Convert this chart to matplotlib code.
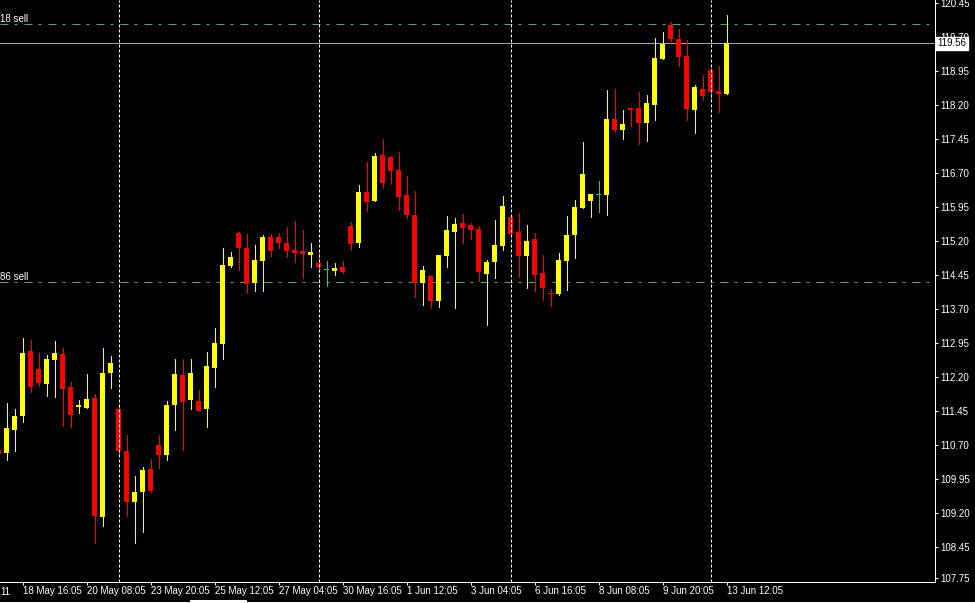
#!/usr/bin/env python3
"""
MetaTrader-style candlestick chart (black terminal look), May-Jun 2011.
Prices read off the terminal screenshot; one bar every 8 px.
"""
import numpy as np
import matplotlib
matplotlib.use("Agg")
import matplotlib.pyplot as plt
from matplotlib import rcParams
from matplotlib.lines import Line2D
from matplotlib.patches import Rectangle
from matplotlib.transforms import blended_transform_factory

rcParams.update({
    "font.family": ["Liberation Sans", "DejaVu Sans"],
    "font.size": 7,
    "lines.scale_dashes": False,
})

W, H = 975, 603
PX = 0.72          # one pixel in points at dpi=100
BAR_PX = 8         # horizontal spacing of bars
PX_PER_UNIT = 45.33

BG     = "#000000"
FG     = "#FFFFFF"
BULL   = "#FFFF00"
BEAR   = "#FF0000"
DOJI   = "#4EC24E"
ORDER  = "#4FB04F"
BID_C  = "#A4A4AC"

# ---- OHLC, oldest first ----
opens = [110.58, 110.52, 111.02, 111.33, 112.77, 112.38, 112.04, 112.57, 112.70, 111.97,
         111.54, 111.52, 111.74, 109.11, 112.28, 111.49, 110.56, 109.43, 109.65, 110.16,
         110.69, 110.47, 111.58, 112.24, 111.69, 111.66, 111.49, 112.40, 112.93, 114.64,
         115.38, 115.04, 114.27, 114.75, 115.28, 115.28, 115.15, 115.00, 114.97, 114.89,
         114.71, 114.55, 114.53, 114.62, 115.52, 115.15, 116.27, 116.07, 117.09, 117.05,
         116.76, 116.21, 115.77, 114.27, 114.42, 113.88, 114.87, 115.40, 115.59, 115.55,
         115.46, 114.47, 114.74, 115.08, 115.73, 115.40, 114.86, 115.24, 114.49, 114.05,
         114.02, 114.76, 115.33, 115.93, 116.08, 116.21, 116.21, 117.89, 117.64, 118.13,
         118.13, 117.80, 118.19, 119.21, 119.96, 119.65, 119.27, 118.08, 118.55, 118.97,
         118.50, 118.44]
highs = [110.62, 111.61, 111.49, 113.05, 113.02, 112.72, 112.68, 112.99, 112.83, 112.09,
         111.69, 112.26, 111.81, 112.83, 112.66, 111.56, 110.91, 110.01, 110.20, 110.38,
         110.91, 111.66, 112.60, 112.59, 112.60, 111.91, 112.75, 113.27, 115.03, 114.96,
         115.40, 115.35, 115.11, 115.33, 115.35, 115.37, 115.50, 115.63, 115.44, 115.15,
         114.96, 114.75, 114.70, 114.75, 115.61, 116.43, 116.94, 117.13, 117.44, 117.07,
         117.16, 116.63, 116.30, 114.64, 114.44, 114.88, 115.74, 115.69, 115.79, 115.60,
         115.52, 114.77, 115.66, 116.19, 115.75, 115.82, 115.55, 115.38, 114.88, 114.13,
         114.92, 115.74, 116.10, 117.38, 116.24, 116.52, 118.52, 118.55, 118.08, 118.14,
         118.49, 118.41, 119.68, 119.80, 120.02, 119.88, 119.63, 118.63, 118.86, 119.02,
         119.05, 120.18]
lows = [110.45, 110.36, 110.55, 111.19, 111.87, 112.00, 111.77, 111.76, 111.12, 111.10,
        111.41, 111.50, 108.54, 108.91, 111.94, 110.44, 109.13, 108.54, 108.78, 109.65,
        110.19, 110.36, 111.02, 110.58, 111.49, 111.44, 111.10, 111.98, 112.60, 114.63,
        114.55, 114.05, 114.09, 114.09, 114.86, 115.05, 114.83, 114.74, 114.38, 114.63,
        114.50, 114.19, 114.44, 114.48, 115.00, 115.07, 115.86, 116.07, 116.37, 116.45,
        115.88, 115.71, 113.96, 113.78, 113.71, 113.74, 114.63, 113.72, 115.16, 115.24,
        114.31, 113.34, 114.38, 114.99, 115.29, 114.41, 114.16, 114.09, 113.89, 113.76,
        114.00, 114.11, 114.81, 115.93, 115.73, 115.84, 115.77, 117.60, 117.44, 117.73,
        117.33, 117.41, 117.86, 119.21, 119.54, 119.05, 117.86, 117.58, 118.30, 118.32,
        118.05, 118.44]
closes = [110.50, 111.06, 111.33, 112.73, 111.97, 112.07, 112.59, 112.73, 111.93, 111.35,
          111.58, 111.71, 109.13, 112.28, 112.50, 110.55, 109.43, 109.66, 110.14, 109.68,
          110.47, 111.58, 112.26, 111.65, 112.28, 111.45, 112.44, 112.94, 114.66, 114.85,
          115.05, 114.25, 114.77, 115.28, 114.97, 115.14, 114.97, 114.93, 114.91, 114.94,
          114.61, 114.55, 114.60, 114.50, 115.13, 116.27, 116.05, 117.07, 116.48, 116.74,
          116.17, 115.77, 114.27, 114.55, 113.88, 114.88, 115.44, 115.57, 115.47, 115.44,
          114.50, 114.74, 115.10, 115.96, 115.35, 114.86, 115.20, 114.44, 114.16, 114.02,
          114.77, 115.33, 115.95, 116.67, 116.23, 116.21, 117.88, 117.64, 117.77, 118.08,
          117.80, 118.23, 119.24, 119.55, 119.65, 119.26, 118.10, 118.58, 118.39, 118.47,
          118.44, 119.56]

separator_bars = [15, 40, 64, 89]
order_prices = [119.97, 114.28]
order_labels = ["18 sell", "86 sell"]
bid = 119.56

time_tick_bars = [3, 11, 19, 27, 35, 43, 51, 59, 67, 75, 83, 91]
time_tick_labels = ["18 May 16:05", "20 May 08:05", "23 May 20:05", "25 May 12:05",
                    "27 May 04:05", "30 May 16:05", "1 Jun 12:05", "3 Jun 04:05",
                    "6 Jun 16:05", "8 Jun 08:05", "9 Jun 20:05", "13 Jun 12:05"]
price_ticks = [107.75, 108.45, 109.20, 109.95, 110.70, 111.45, 112.20, 112.95,
               113.70, 114.45, 115.20, 115.95, 116.70, 117.45, 118.20, 118.95,
               119.70, 120.45]


def main():
    fig = plt.figure(figsize=(W / 100, H / 100), dpi=100, facecolor=BG)
    plot_w, plot_h = 935, 582
    ax = fig.add_axes([0, (H - plot_h) / H, plot_w / W, plot_h / H], facecolor=BG)

    o, h, l, c = map(np.asarray, (opens, highs, lows, closes))
    x = np.arange(len(o))
    colors = np.where(c > o, BULL, np.where(c < o, BEAR, DOJI))

    # order lines + bid line under the candles
    dashdot = (0, (8 * PX, 6 * PX, 3 * PX, 7 * PX))
    for p, lab in zip(order_prices, order_labels):
        ax.axhline(p, color=ORDER, lw=PX, ls=dashdot, zorder=1)
        ax.annotate(lab, xy=(0, p), xycoords=blended_transform_factory(ax.transAxes, ax.transData),
                    xytext=(0.5 * PX, 2 * PX), textcoords="offset points",
                    color=FG, fontsize=7, ha="left", va="baseline")
    ax.axhline(bid, color=BID_C, lw=PX, zorder=1)

    # candles
    ax.vlines(x, l, h, colors=colors, lw=PX, antialiased=False, zorder=3)
    body_lo = np.minimum(o, c)
    body_h = np.maximum(np.abs(c - o), 1.0 / PX_PER_UNIT)
    ax.bar(x, body_h, bottom=body_lo, width=5.5 / BAR_PX, color=colors, lw=0,
           antialiased=False, zorder=3)

    # period separators
    for b in separator_bars:
        ax.axvline(b, color=FG, lw=PX, ls=(0, (3 * PX, 2 * PX)), zorder=4)

    # scales: bar i sits at pixel -1.3 + 8*i
    ax.set_xlim(1.3 / BAR_PX, (plot_w + 1.3) / BAR_PX)
    ax.set_ylim(120.51 - plot_h / PX_PER_UNIT, 120.51)

    for s in ("top", "left"):
        ax.spines[s].set_visible(False)
    for s in ("bottom", "right"):
        ax.spines[s].set_color(FG)
        ax.spines[s].set_linewidth(PX)

    ax.yaxis.tick_right()
    ax.set_yticks(price_ticks)
    ax.set_yticklabels([f"{v:.2f}" for v in price_ticks])
    ax.set_xticks(time_tick_bars)
    ax.set_xticklabels(time_tick_labels, ha="left")
    ax.tick_params(axis="both", colors=FG, labelcolor=FG, length=3 * PX, width=PX,
                   labelsize=7, direction="out")
    ax.tick_params(axis="y", pad=2 * PX)
    ax.tick_params(axis="x", pad=1.5 * PX)

    # bid price box on the price scale (covers the 119.70 label as in the terminal)
    ax.text(1.003, bid, f"{bid:.2f}", transform=blended_transform_factory(ax.transAxes, ax.transData),
            ha="left", va="center", color="black", fontsize=7, zorder=6,
            bbox=dict(facecolor=FG, edgecolor=FG, boxstyle="square,pad=0.15"))

    # first, cut-off date label and the window strip at the very bottom
    fig.text(0, 1 - 592 / H, "11", color=FG, fontsize=7, ha="left", va="center")
    fig.add_artist(Line2D([0, 1], [1 - 601.5 / H] * 2, color=FG, lw=PX, transform=fig.transFigure))
    fig.add_artist(Rectangle((190 / W, 0), 57 / W, 3 / H, color=FG, lw=0, transform=fig.transFigure))

    fig.savefig("out.png", dpi=100, facecolor=BG)
    plt.close(fig)


if __name__ == "__main__":
    main()
